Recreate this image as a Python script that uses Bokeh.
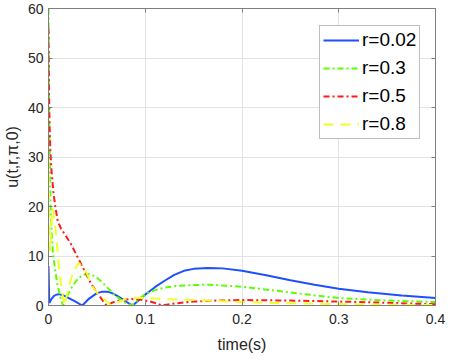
from bokeh.plotting import figure
from bokeh.models import Range1d, LinearAxis, FixedTicker, Legend
from bokeh.embed import file_html
from bokeh.resources import INLINE

# r = 0.02
t_b = [0, 0.0008, 0.003, 0.006, 0.010, 0.015, 0.020, 0.027, 0.035, 0.042, 0.050, 0.056, 0.061, 0.067,
       0.074, 0.080, 0.087, 0.093, 0.100, 0.110, 0.120, 0.130, 0.140, 0.150, 0.165, 0.180, 0.200,
       0.225, 0.250, 0.275, 0.300, 0.330, 0.365, 0.400]
u_b = [8.0, 0.5, 1.3, 2.0, 2.3, 2.1, 1.6, 0.9, 0.0, 1.4, 2.5, 2.8, 2.8, 2.4, 1.6, 0.8, 0.0, 1.0,
       2.2, 3.7, 5.0, 6.2, 7.0, 7.4, 7.6, 7.5, 7.0, 6.1, 5.1, 4.2, 3.4, 2.7, 2.0, 1.5]

# r = 0.3
t_g = [0, 0.0005, 0.001, 0.002, 0.003, 0.0045, 0.0065, 0.009, 0.012, 0.015, 0.020, 0.025, 0.030,
       0.035, 0.040, 0.045, 0.050, 0.055, 0.060, 0.065, 0.070, 0.075, 0.080, 0.086, 0.093, 0.100,
       0.110, 0.120, 0.130, 0.145, 0.165, 0.185, 0.200, 0.230, 0.260, 0.300, 0.350, 0.400]
u_g = [60, 42, 33, 21, 15.5, 11, 7.7, 4.5, 1.8, 0.0, 2.2, 4.0, 5.3, 6.1, 6.4, 6.2, 5.6, 4.8, 3.8,
       2.8, 1.9, 1.1, 0.5, 0.0, 1.2, 2.3, 3.1, 3.6, 3.9, 4.1, 4.2, 4.0, 3.8, 3.1, 2.4, 1.5, 1.0, 0.7]

# r = 0.5
t_r = [0, 0.0005, 0.001, 0.002, 0.003, 0.005, 0.007, 0.0096, 0.013, 0.0165, 0.023, 0.030, 0.037,
       0.044, 0.051, 0.056, 0.060, 0.066, 0.075, 0.085, 0.095, 0.105, 0.112, 0.118, 0.130, 0.150,
       0.175, 0.200, 0.250, 0.300, 0.350, 0.400]
u_r = [56, 44, 37, 31, 27.5, 23, 20, 17, 15.5, 14.5, 12.5, 9.8, 7.1, 4.4, 2.4, 1.0, 0.0, 0.6, 1.1,
       1.3, 1.2, 0.8, 0.4, 0.0, 0.4, 0.8, 1.0, 1.1, 1.0, 0.8, 0.55, 0.25]

# r = 0.8
t_y = [0, 0.0008, 0.0018, 0.003, 0.0045, 0.006, 0.008, 0.010, 0.012, 0.014, 0.0165, 0.020, 0.025,
       0.031, 0.036, 0.040, 0.045, 0.050, 0.056, 0.060, 0.065, 0.072, 0.080, 0.090, 0.100, 0.120,
       0.150, 0.200, 0.250, 0.300, 0.350, 0.400]
u_y = [30, 14, 11, 17, 19.5, 17.5, 14, 9.5, 5.8, 2.8, 0.0, 3.0, 6.5, 8.6, 7.8, 6.3, 4.0, 2.6, 1.5,
       0.8, 0.0, 0.7, 1.3, 1.5, 1.5, 1.3, 1.1, 0.7, 0.45, 0.3, 0.15, 0.1]

x_ticks = [0, 0.1, 0.2, 0.3, 0.4]
x_labels = ["0", "0.1", "0.2", "0.3", "0.4"]
y_ticks = [0, 10, 20, 30, 40, 50, 60]

FONT = "Liberation Sans"
AX = "#7f7f7f"
TXT = "#262626"

p = figure(width=450, height=358, output_backend="svg", toolbar_location=None,
           x_range=Range1d(0, 0.4), y_range=Range1d(0, 60),
           min_border_left=48, min_border_right=15, min_border_top=8, min_border_bottom=53)

p.background_fill_color = "white"
p.outline_line_color = AX
p.outline_line_width = 1

lb = p.line(t_b, u_b, line_color="#1f4fff", line_width=2)
lg = p.line(t_g, u_g, line_color="#5cff00", line_width=2, line_dash="6 3 2 3")
lr = p.line(t_r, u_r, line_color="#ff1a1a", line_width=2, line_dash="6 3 2 3")
ly = p.line(t_y, u_y, line_color="#eeff2a", line_width=2, line_dash="10 7")

xa = p.xaxis[0]
xa.ticker = FixedTicker(ticks=x_ticks)
xa.major_label_overrides = {t: l for t, l in zip(x_ticks, x_labels)}
ya = p.yaxis[0]
ya.ticker = FixedTicker(ticks=y_ticks)

for ax in (xa, ya):
    ax.axis_line_color = AX
    ax.major_tick_line_color = AX
    ax.major_tick_in = 4
    ax.major_tick_out = 0
    ax.minor_tick_line_color = None
    ax.major_label_text_font = FONT
    ax.major_label_text_font_size = "14px"
    ax.major_label_text_color = TXT
    ax.axis_label_text_font = FONT
    ax.axis_label_text_font_size = "16px"
    ax.axis_label_text_font_style = "normal"
    ax.axis_label_text_color = TXT

xa.axis_label = "time(s)"
xa.major_label_standoff = 8
xa.axis_label_standoff = 9
ya.axis_label = "u(t,r,π,0)"
ya.major_label_standoff = 5
ya.axis_label_standoff = 4

for loc, ticks in (("right", y_ticks), ("above", x_ticks)):
    a = LinearAxis(ticker=FixedTicker(ticks=ticks),
                   major_label_overrides={t: "" for t in ticks},
                   major_label_text_font_size="1px",
                   major_label_standoff=0, axis_line_color=AX, major_tick_line_color=AX,
                   major_tick_in=4, major_tick_out=0, minor_tick_line_color=None)
    p.add_layout(a, loc)

p.xgrid.ticker = FixedTicker(ticks=x_ticks)
p.ygrid.ticker = FixedTicker(ticks=y_ticks)
p.xgrid.grid_line_color = "#e3e3e3"
p.ygrid.grid_line_color = "#e3e3e3"

legend = Legend(items=[("r=0.02", [lb]), ("r=0.3", [lg]), ("r=0.5", [lr]), ("r=0.8", [ly])],
                location=(271, 166), margin=0, padding=3, spacing=6,
                glyph_width=36, glyph_height=22, label_height=22, label_standoff=3,
                label_text_font=FONT, label_text_font_size="19px", label_text_color="black",
                border_line_color=AX, border_line_width=1, background_fill_alpha=1.0)
p.add_layout(legend)

open("out.html", "w").write(file_html(p, INLINE))
